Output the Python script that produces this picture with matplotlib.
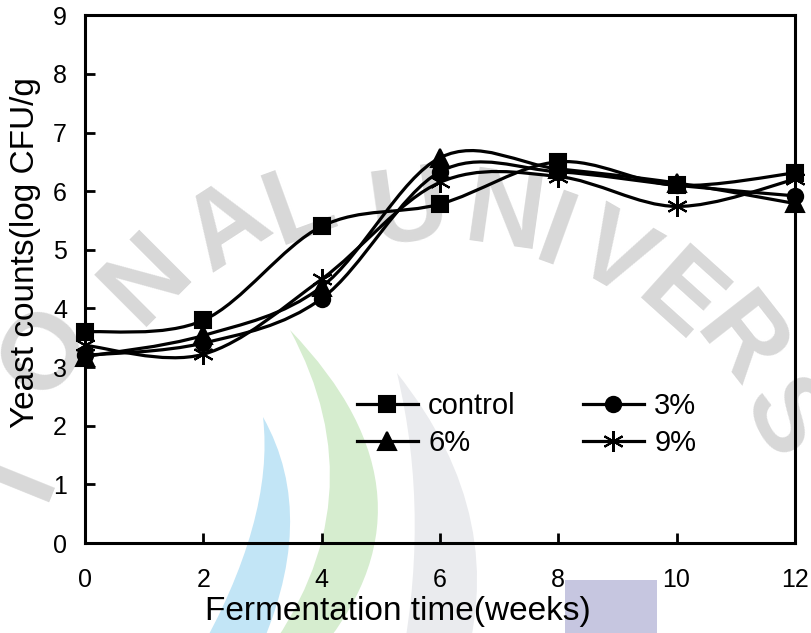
import numpy as np
import matplotlib
matplotlib.use('Agg')
import matplotlib.pyplot as plt
from matplotlib.path import Path
from matplotlib.patches import PathPatch, Rectangle
from matplotlib.lines import Line2D

plt.rcParams['font.family'] = ['Liberation Sans', 'DejaVu Sans']

# yeast counts (log CFU/g) per fermentation week
weeks = [0, 2, 4, 6, 8, 10, 12]
control = [3.60, 3.80, 5.40, 5.78, 6.50, 6.10, 6.31]
pct3 = [3.20, 3.41, 4.17, 6.33, 6.33, 6.10, 5.92]
pct6 = [3.18, 3.54, 4.37, 6.57, 6.38, 6.14, 5.79]
pct9 = [3.37, 3.22, 4.50, 6.15, 6.25, 5.74, 6.20]

series_names = ['control', '3%', '6%', '9%']
series_values = [control, pct3, pct6, pct9]
markers = ['s', 'o', '^', (6, 2, 0)]
msizes = [12, 11, 13, 15]


def smooth_path(x, y):
    # excel style smoothed line: cubic bezier segments through every point
    pts = np.column_stack([x, y]).astype(float)
    n = len(pts)
    verts = [pts[0]]
    codes = [Path.MOVETO]
    for i in range(n - 1):
        p0 = pts[max(i - 1, 0)]
        p1 = pts[i]
        p2 = pts[i + 1]
        p3 = pts[min(i + 2, n - 1)]
        verts += [p1 + (p2 - p0) / 6, p2 - (p3 - p1) / 6, p2]
        codes += [Path.CURVE4] * 3
    return Path(verts, codes)


fig = plt.figure(figsize=(8.11, 6.33), dpi=100)

# background emblem, drawn in pixel units
bg = fig.add_axes([0, 0, 1, 1], zorder=-1)
bg.set_xlim(0, 811)
bg.set_ylim(633, 0)
bg.axis('off')


def crescent(tip, out_ctrl, out_end, in_ctrl, in_end, color):
    verts = [tip, out_ctrl, out_end, in_end, in_ctrl, tip, tip]
    codes = [Path.MOVETO, Path.CURVE3, Path.CURVE3, Path.LINETO,
             Path.CURVE3, Path.CURVE3, Path.CLOSEPOLY]
    bg.add_patch(PathPatch(Path(verts, codes), facecolor=color, edgecolor='none'))


crescent((263, 417), (321, 520), (255, 660), (275, 520), (195, 660), '#c2e5f6')
crescent((290, 330), (454, 500), (312, 660), (382, 500), (262, 660), '#d6edcf')
crescent((397, 373), (514, 520), (460, 680), (432, 520), (398, 680), '#eaebee')
bg.add_patch(Rectangle((565, 580), 92, 60, facecolor='#c6c6e0', edgecolor='none'))

letters = ['I', 'O', 'N', 'A', 'L', 'U', 'N', 'I', 'V', 'E', 'R', 'S']
letter_xy = [(22, 478), (46, 352), (148, 280), (228, 228), (300, 207), (409, 212),
             (504, 218), (554, 238), (613, 258), (678, 300), (738, 345), (782, 420)]
letter_rot = [68, 58, 45, 33, 20, 8, -8, -20, -30, -42, -52, -62]
for ch, (lx, ly), rot in zip(letters, letter_xy, letter_rot):
    bg.text(lx, ly, ch, fontsize=78, fontweight='bold', color='#d8d8d8',
            rotation=rot, ha='center', va='center', rotation_mode='anchor')

ax = fig.add_axes([0.105, 0.142, 0.875, 0.834], zorder=1)
ax.patch.set_alpha(0)

handles = []
for name, vals, mk, ms in zip(series_names, series_values, markers, msizes):
    ax.add_patch(PathPatch(smooth_path(weeks, vals), fill=False,
                           edgecolor='black', linewidth=2.3, zorder=2))
    ax.plot(weeks, vals, linestyle='none', marker=mk, markersize=ms,
            color='black', markeredgewidth=1.5, zorder=3, clip_on=False)
    handles.append(Line2D([], [], color='black', linewidth=2.3, marker=mk,
                          markersize=ms, markeredgewidth=1.5, label=name))

ax.set_xlim(0, 12)
ax.set_ylim(0, 9)
ax.set_xticks(range(0, 13, 2))
ax.set_yticks(range(0, 10))
ax.tick_params(direction='in', length=7, width=2, labelsize=18)
ax.tick_params(axis='x', pad=18)
ax.tick_params(axis='y', pad=13)
for sp in ax.spines.values():
    sp.set_linewidth(2.2)

ax.set_xlabel('Fermentation time(weeks)', fontsize=24)
ax.set_ylabel('Yeast counts(log CFU/g', fontsize=24)
ax.xaxis.set_label_coords(0.44, -0.1)
ax.yaxis.set_label_coords(-0.062, 0.55)

ax.legend(handles=[handles[0], handles[2], handles[1], handles[3]],
          labels=['control', '6%', '3%', '9%'], ncol=2, frameon=False,
          loc='upper left', bbox_to_anchor=(0.362, 0.313), fontsize=21,
          handlelength=2.1, handletextpad=0.35, columnspacing=2.3,
          labelspacing=0.3, borderpad=0)

fig.savefig('out.png', dpi=100)
